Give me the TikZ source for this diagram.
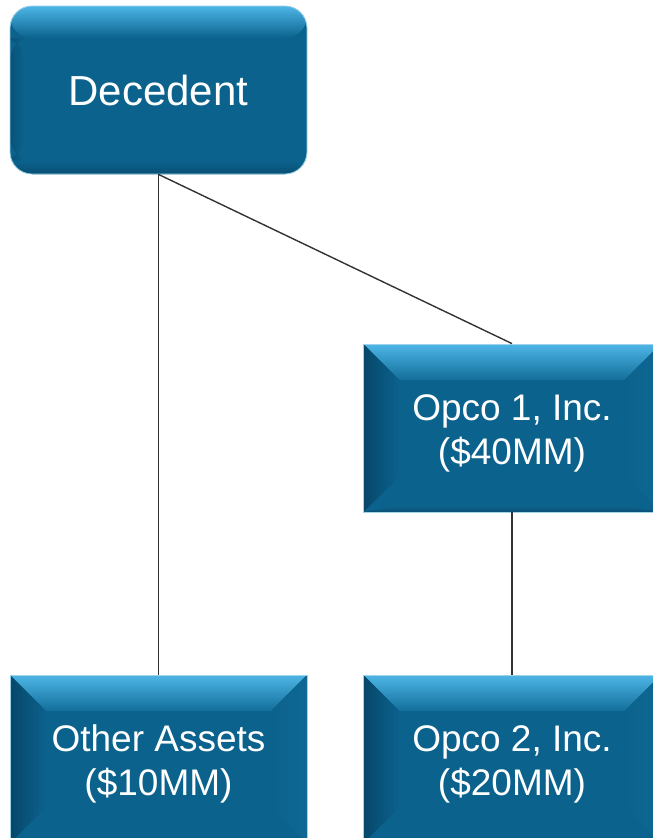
\documentclass[tikz,border=0pt]{standalone}
\usepackage{fontspec}
\setmainfont{Liberation Sans}
\definecolor{boxface}{HTML}{0B628D}
\definecolor{boxtop}{HTML}{4DB6E6}
\definecolor{boxtopend}{HTML}{136E9A}
\definecolor{boxleft}{HTML}{07476A}
\definecolor{boxright}{HTML}{0E6893}
\definecolor{boxedge}{HTML}{9FD3EA}
\definecolor{linkgray}{HTML}{333333}
\newcommand{\toprow}{\rule{0pt}{36pt}}
\tikzset{
  bevel/.style={
    draw=boxedge, line width=0.8pt, fill=boxface, text=white, align=center,
    minimum width=297pt, minimum height=168pt, inner sep=0pt,
    path picture={
      \coordinate (nw) at (path picture bounding box.north west);
      \coordinate (ne) at (path picture bounding box.north east);
      \coordinate (sw) at (path picture bounding box.south west);
      \coordinate (se) at (path picture bounding box.south east);
      \fill[top color=boxtop, bottom color=boxtopend]
        (nw) -- (ne) -- ([xshift=-#1,yshift=-#1]ne) -- ([xshift=#1,yshift=-#1]nw) -- cycle;
      \fill[left color=boxleft, right color=boxface]
        (nw) -- ([xshift=#1,yshift=-#1]nw) -- ([xshift=#1,yshift=#1]sw) -- (sw) -- cycle;
      \fill[right color=boxright, left color=boxface]
        (ne) -- ([xshift=-#1,yshift=-#1]ne) -- ([xshift=-#1,yshift=#1]se) -- (se) -- cycle;
      \fill[bottom color=boxleft!70!boxface, top color=boxface]
        (sw) -- ([xshift=#1,yshift=6pt]sw) -- ([xshift=-#1,yshift=6pt]se) -- (se) -- cycle;
    }},
  bevel/.default=36pt,
  roundbox/.style={
    draw=boxedge, line width=0.8pt, fill=boxface, text=white, align=center,
    rounded corners=22pt, minimum width=297pt, minimum height=168pt, inner sep=0pt,
    path picture={
      \coordinate (nw) at (path picture bounding box.north west);
      \coordinate (ne) at (path picture bounding box.north east);
      \coordinate (sw) at (path picture bounding box.south west);
      \coordinate (se) at (path picture bounding box.south east);
      \fill[top color=boxtop, bottom color=boxface]
        (nw) rectangle ([yshift=-32pt]ne);
      \fill[left color=boxleft!60!boxface, right color=boxface]
        ([yshift=-32pt]nw) rectangle ([xshift=14pt,yshift=14pt]sw);
      \fill[bottom color=boxleft!70!boxface, top color=boxface]
        (sw) rectangle ([yshift=14pt]se);
    }},
  link/.style={draw=linkgray, line width=1.4pt},
  bigtext/.style={font=\fontsize{42}{48}\selectfont},
  boxtext/.style={font=\fontsize{37}{44}\selectfont}
}
\begin{document}
\begin{tikzpicture}[x=1pt,y=-1pt]
  \useasboundingbox (0,0) rectangle (653,838);
  \clip (0,0) rectangle (653,838);
  \node[roundbox, bigtext] (dec) at (158.5,90) {Decedent};
  \node[bevel, boxtext] (opco1) at (512,428) {\toprow Opco 1, Inc.\\(\$40MM)};
  \node[bevel, boxtext] (other) at (158.5,759) {\toprow Other Assets\\(\$10MM)};
  \node[bevel, boxtext] (opco2) at (512,759) {\toprow Opco 2, Inc.\\(\$20MM)};
  \draw[link] (dec.south) -- (other.north);
  \draw[link] (dec.south) -- (opco1.north);
  \draw[link] (opco1.south) -- (opco2.north);
\end{tikzpicture}
\end{document}
